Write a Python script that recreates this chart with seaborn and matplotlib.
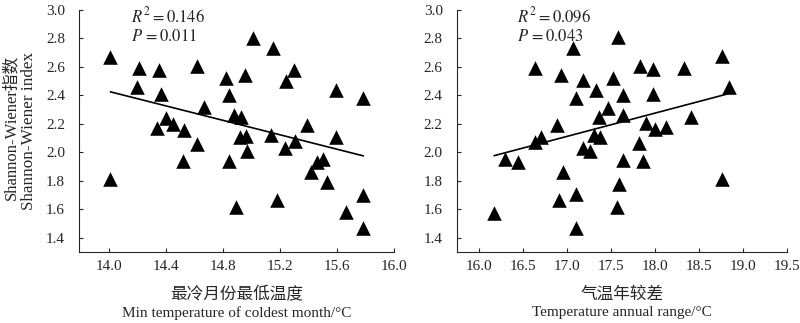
import numpy as np
import pandas as pd
import matplotlib
matplotlib.use("Agg")
import matplotlib.pyplot as plt
import seaborn as sns

# ---- data ----
min_temp = [14.01, 14.01, 14.21, 14.20, 14.35, 14.365, 14.40, 14.34, 14.45, 14.53,
            14.615, 14.67, 14.62, 14.52, 14.82, 14.845, 14.955, 15.01, 15.15, 15.30,
            15.24, 14.88, 14.93, 14.92, 14.965, 14.97, 14.845, 14.89, 15.14, 15.235,
            15.305, 15.18, 15.39, 15.46, 15.50, 15.42, 15.53, 15.59, 15.59, 15.785,
            15.78, 15.66, 15.785]
shannon_left = [2.67, 1.81, 2.59, 2.46, 2.58, 2.41, 2.24, 2.17, 2.20, 2.16,
                2.61, 2.32, 2.06, 1.94, 2.52, 2.40, 2.54, 2.80, 2.73, 2.58,
                2.50, 2.26, 2.25, 2.11, 2.115, 2.01, 1.94, 1.615, 2.12, 2.03,
                2.08, 1.665, 2.195, 1.935, 1.955, 1.865, 1.79, 2.44, 2.11, 2.385,
                1.70, 1.58, 1.47]

annual_range = [16.17, 16.29, 16.44, 16.64, 16.64, 16.70, 16.88, 16.93, 16.955, 16.91,
                17.07, 17.10, 17.10, 17.10, 17.18, 17.18, 17.26, 17.33, 17.31, 17.37,
                17.36, 17.46, 17.52, 17.58, 17.64, 17.64, 17.64, 17.59, 17.57, 17.83,
                17.98, 17.98, 17.90, 18.00, 18.12, 17.82, 17.86, 18.33, 18.41, 18.76,
                18.84, 18.76]
shannon_right = [1.575, 1.95, 1.935, 2.59, 2.075, 2.11, 2.19, 2.54, 1.865, 1.665,
                 2.73, 2.385, 1.705, 1.47, 2.51, 2.03, 2.01, 2.44, 2.12, 2.11,
                 2.25, 2.315, 2.525, 2.81, 2.40, 2.26, 1.945, 1.78, 1.615, 2.61,
                 2.585, 2.41, 2.205, 2.165, 2.175, 2.065, 1.94, 2.595, 2.245, 2.68,
                 2.46, 1.81]

left_xticks = [14.0, 14.4, 14.8, 15.2, 15.6, 16.0]
right_xticks = [16.0, 16.5, 17.0, 17.5, 18.0, 18.5, 19.0, 19.5]
yticks = [1.4, 1.6, 1.8, 2.0, 2.2, 2.4, 2.6, 2.8, 3.0]

left_stats = ["$R^{2}=0.146$", "$P\\,=0.011$"]
right_stats = ["$R^{2}=0.096$", "$P\\,=0.043$"]

ylabel_cn = "Shannon-Wiener指数"
ylabel_en = "Shannon-Wiener index"
left_xlabel_cn = "最冷月份最低温度"
left_xlabel_en = "Min temperature of coldest month/°C"
right_xlabel_cn = "气温年较差"
right_xlabel_en = "Temperature annual range/°C"

# ---- styling ----
sns.set_style("ticks")
plt.rcParams["font.family"] = ["Liberation Serif", "Noto Sans CJK SC"]
plt.rcParams["mathtext.fontset"] = "stix"
plt.rcParams["axes.linewidth"] = 0.8

fig = plt.figure(figsize=(8.0, 3.23), dpi=100)
axL = fig.add_axes([0.09875, 0.2198, 0.39375, 0.7492])
axR = fig.add_axes([0.5709, 0.2198, 0.4129, 0.7492])

dfL = pd.DataFrame({"x": min_temp, "y": shannon_left})
dfR = pd.DataFrame({"x": annual_range, "y": shannon_right})

for ax, df, xt, xlim, stats, xl_cn, xl_en, tx in [
    (axL, dfL, left_xticks, (13.79, 16.0), left_stats, left_xlabel_cn, left_xlabel_en, 0.165),
    (axR, dfR, right_xticks, (15.745, 19.5), right_stats, right_xlabel_cn, right_xlabel_en, 0.182),
]:
    sns.regplot(data=df, x="x", y="y", ax=ax, ci=None, marker="^", color="black",
                scatter_kws={"s": 110, "linewidths": 0, "zorder": 3, "alpha": 1.0},
                line_kws={"linewidth": 1.2, "color": "black", "zorder": 2},
                truncate=True)
    ax.set_xlim(*xlim)
    ax.set_ylim(1.3, 3.0)
    ax.set_xticks(xt)
    ax.set_xticklabels([f"{v:.1f}" for v in xt])
    ax.set_yticks(yticks)
    ax.set_yticklabels([f"{v:.1f}" for v in yticks])
    ax.tick_params(direction="in", length=3, width=0.8, labelsize=11)
    ax.tick_params(axis="y", pad=10)
    ax.tick_params(axis="x", pad=6)
    sns.despine(ax=ax)
    ax.set_xlabel("")
    ax.set_ylabel("")
    ax.text(0.5, -0.178, xl_cn, transform=ax.transAxes, fontsize=12,
            ha="center", va="center")
    ax.text(0.5, -0.252, xl_en, transform=ax.transAxes, fontsize=11,
            ha="center", va="center")
    ax.text(tx, 0.975, stats[0], transform=ax.transAxes, fontsize=12,
            ha="left", va="center")
    ax.text(tx, 0.888, stats[1], transform=ax.transAxes, fontsize=12,
            ha="left", va="center")

fig.text(11 / 800, 1 - 127 / 323, ylabel_cn, rotation=90, fontsize=12,
         ha="center", va="center")
fig.text(29 / 800, 1 - 131 / 323, ylabel_en, rotation=90, fontsize=12.3,
         ha="center", va="center")

fig.savefig("out.png", dpi=100)
